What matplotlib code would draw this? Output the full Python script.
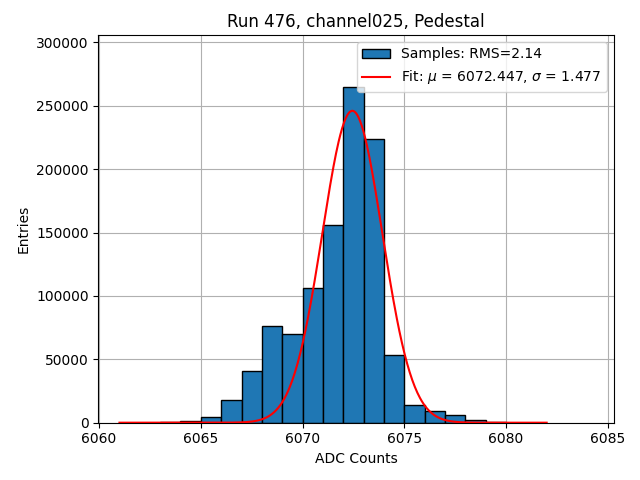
import numpy as np
import matplotlib
matplotlib.use("Agg")
import matplotlib.pyplot as plt

bin_edges = np.arange(6063, 6081)
counts = [400, 1500, 4700, 18000, 41000, 76000, 70000, 106500, 156000,
          264500, 224000, 53500, 14000, 9000, 6300, 2400, 500]
mu = 6072.447
sigma = 1.477
amp = 246000

fig = plt.figure(figsize=(6.4, 4.8), dpi=100)
ax = fig.add_axes([0.1536, 0.1194, 0.9594 - 0.1536, 0.9271 - 0.1194])
ax.hist(bin_edges[:-1], bins=bin_edges, weights=counts, edgecolor="black",
        color="#1f77b4", label="Samples: RMS=2.14", zorder=2)
xs = np.linspace(6061, 6082, 500)
ax.plot(xs, amp * np.exp(-0.5 * ((xs - mu) / sigma) ** 2), color="red",
        label=r"Fit: $\mu$ = 6072.447, $\sigma$ = 1.477", zorder=3)
ax.set_xlim(6059.96, 6085.31)
ax.set_ylim(0, 305800)
ax.grid(True, zorder=0)
ax.set_axisbelow(True)
ax.set_xlabel("ADC Counts")
ax.set_ylabel("Entries")
ax.set_title("Run 476, channel025, Pedestal")
ax.legend(loc="upper right")
fig.savefig("out.png")
